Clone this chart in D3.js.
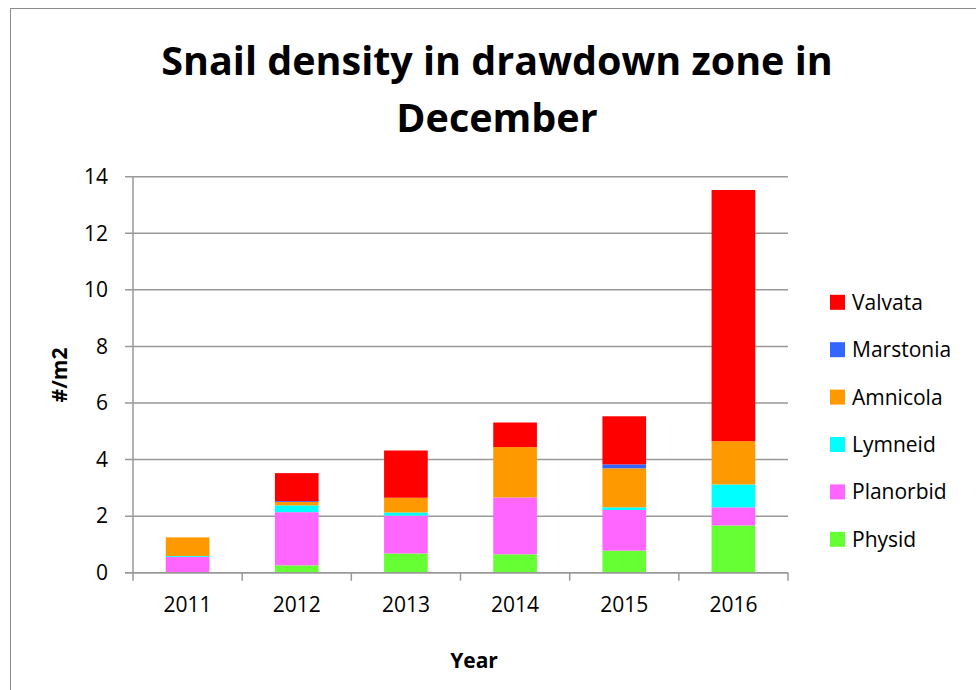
<!DOCTYPE html>
<html><head><meta charset="utf-8">
<script src="https://cdn.jsdelivr.net/npm/d3@7"></script>
<style>body{margin:0;background:#fff;} text{font-family:"Open Sans", sans-serif;}</style>
</head><body>
<svg id="c" width="976" height="690"></svg>
<script>
const years = ["2011","2012","2013","2014","2015","2016"];
const species = ["Physid","Planorbid","Lymneid","Amnicola","Marstonia","Valvata"];
const physid    = [0.00, 0.26, 0.68, 0.65, 0.78, 1.67];
const planorbid = [0.56, 1.88, 1.34, 2.01, 1.44, 0.64];
const lymneid   = [0.03, 0.24, 0.11, 0.00, 0.09, 0.81];
const amnicola  = [0.66, 0.12, 0.52, 1.78, 1.38, 1.53];
const marstonia = [0.00, 0.03, 0.00, 0.00, 0.14, 0.00];
const valvata   = [0.00, 0.99, 1.67, 0.87, 1.70, 8.88];
const colors = ["#66FF33","#FF66FF","#00FFFF","#FF9900","#3366FF","#FF0000"];
const yTicks = [0,2,4,6,8,10,12,14];

const seriesVals = [physid, planorbid, lymneid, amnicola, marstonia, valvata];
const rows = years.map((y,i)=>{const r={year:y}; species.forEach((s,j)=>r[s]=seriesVals[j][i]); return r;});

const svg = d3.select("#c");
svg.append("rect").attr("x",10.5).attr("y",8.5).attr("width",980).attr("height",700)
  .attr("fill","#fff").attr("stroke","#8c8c8c").attr("stroke-width",1);

const m = {l:133, r:788, t:176.7, b:572.7};
const x = d3.scaleBand().domain(years).range([m.l,m.r]).paddingInner(0.6).paddingOuter(0.3);
const y = d3.scaleLinear().domain([0,14]).range([m.b,m.t]);

svg.append("g").selectAll("line").data(yTicks).join("line")
  .attr("x1",m.l-8).attr("x2",m.r).attr("y1",d=>y(d)).attr("y2",d=>y(d))
  .attr("stroke","#999").attr("stroke-width",1.5);

const stack = d3.stack().keys(species)(rows);
svg.append("g").selectAll("g").data(stack).join("g")
  .attr("fill",(d,i)=>colors[i])
  .selectAll("rect").data(d=>d).join("rect")
  .attr("x",d=>x(d.data.year)).attr("width",x.bandwidth())
  .attr("y",d=>y(d[1])).attr("height",d=>Math.max(0,y(d[0])-y(d[1])));

const ya = svg.append("g").attr("transform",`translate(${m.l},0)`)
  .call(d3.axisLeft(y).tickValues(yTicks).tickSize(8).tickPadding(17).tickFormat(d3.format("d")));
ya.select(".domain").attr("stroke","#999").attr("stroke-width",1.5).attr("d",`M0,${m.t}V${m.b}`);
ya.selectAll(".tick line").remove();
ya.selectAll("text").attr("font-size",21).attr("fill","#000").attr("font-family","Open Sans");

const xa = svg.append("g").attr("transform",`translate(0,${m.b})`)
  .call(d3.axisBottom(x).tickSize(0).tickPadding(24));
xa.select(".domain").attr("stroke","#999").attr("stroke-width",1.5).attr("d",`M${m.l-8},0H${m.r}`);
xa.selectAll("text").attr("font-size",21).attr("fill","#000").attr("font-family","Open Sans");
const step = x.step();
svg.append("g").selectAll("line").data(d3.range(years.length+1)).join("line")
  .attr("x1",d=>m.l+d*step).attr("x2",d=>m.l+d*step).attr("y1",m.b).attr("y2",m.b+8)
  .attr("stroke","#999").attr("stroke-width",1.5);

const title = svg.append("text").attr("text-anchor","middle").attr("font-weight","bold")
  .attr("font-size",39.5).attr("fill","#000");
title.append("tspan").attr("x",497).attr("y",75).text("Snail density in drawdown zone in");
title.append("tspan").attr("x",497).attr("y",132).text("December");

svg.append("text").attr("transform","translate(67,375) rotate(-90)").attr("text-anchor","middle")
  .attr("font-weight","bold").attr("font-size",21).attr("fill","#000").text("#/m2");
svg.append("text").attr("x",474).attr("y",668).attr("text-anchor","middle")
  .attr("font-weight","bold").attr("font-size",21).attr("fill","#000").text("Year");

const legOrder = species.slice().reverse();
const lg = svg.append("g").selectAll("g").data(legOrder).join("g")
  .attr("transform",(d,i)=>`translate(830,${302.3+i*47.4})`);
lg.append("rect").attr("x",0).attr("y",-7.5).attr("width",15).attr("height",15)
  .attr("fill",d=>colors[species.indexOf(d)]);
lg.append("text").attr("x",22).attr("y",7.5).attr("font-size",21).attr("fill","#000").text(d=>d);
</script>
</body></html>
